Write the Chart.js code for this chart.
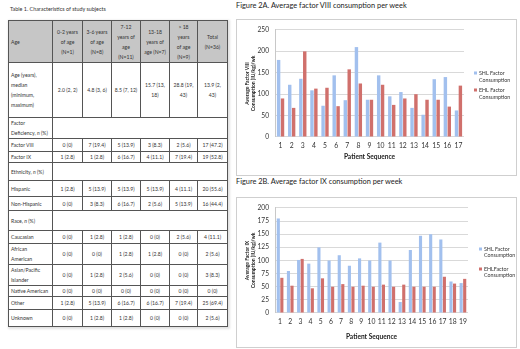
<!DOCTYPE html>
<html>
<head>
<meta charset="utf-8">
<script src="https://cdn.jsdelivr.net/npm/chart.js@4.4.1/dist/chart.umd.min.js"></script>
<style>
  html, body { margin: 0; padding: 0; background: #fff; }
  body { width: 520px; height: 349px; position: relative; overflow: hidden; font-family: Lato, "Open Sans", sans-serif; color: #222; }
  .ttl { position: absolute; font-size: 7.4px; white-space: nowrap; color: #222; }
  #tabTitle { position: absolute; left: 10px; top: 6px; font-size: 5.4px; color: #333; white-space: nowrap; }
  #tblWrap { position: absolute; left: 8px; top: 20px; box-shadow: 1px 1px 2px 1px #e2e2e2; }
  table { border-collapse: collapse; table-layout: fixed; font-size: 5.1px; color: #333; }
  td { border: 1px solid #555; padding: 0 2px; text-align: center; vertical-align: middle; line-height: 10px; overflow: hidden; }
  td.lab { text-align: left; }
  tr.hdr td { background: #c6c6c6; }
  .box { position: absolute; border: 1px solid #cfcfcf; background: #fff; }
</style>
</head>
<body>
<div id="tabTitle">Table 1. Characteristics of study subjects</div>
<div id="tblWrap"><table id="tbl"></table></div>

<div class="ttl" style="left:236px; top:1px;">Figure 2A. Average factor VIII consumption per week</div>
<div class="box" style="left:236px; top:19px; width:279px; height:155px;"><canvas id="c1" width="279" height="155"></canvas></div>

<div class="ttl" style="left:236px; top:177px;">Figure 2B. Average factor IX consumption per week</div>
<div class="box" style="left:236px; top:197px; width:279px; height:149px;"><canvas id="c2" width="279" height="149"></canvas></div>

<script>
// ---------- Table data ----------
const tableColWidths = [44, 30, 29, 29, 29, 28, 30];
const tableHeader = ["Age", "0-2 years<br>of age<br>(N=1)", "3-6 years<br>of age<br>(N=8)", "7-12<br>years of<br>age<br>(N=11)", "13-18<br>years of<br>age (N=7)", "&gt; 18 years<br>of age<br>(N=9)", "Total<br>(N=36)"];
const tableRows = [
  ["Age (years),<br>median<br>(minimum,<br>maximum)", "2.0 (2, 2)", "4.8 (3, 6)", "8.5 (7, 12)", "15.7 (13,<br>18)", "28.8 (19,<br>43)", "13.9 (2,<br>43)"],
  ["Factor<br>Deficiency, <i>n</i> (%)"],
  ["Factor VIII", "0 (0)", "7 (19.4)", "5 (13.9)", "3 (8.3)", "2 (5.6)", "17 (47.2)"],
  ["Factor IX", "1 (2.8)", "1 (2.8)", "6 (16.7)", "4 (11.1)", "7 (19.4)", "19 (52.8)"],
  ["Ethnicity, <i>n</i> (%)"],
  ["Hispanic", "1 (2.8)", "5 (13.9)", "5 (13.9)", "5 (13.9)", "4 (11.1)", "20 (55.6)"],
  ["Non-Hispanic", "0 (0)", "3 (8.3)", "6 (16.7)", "2 (5.6)", "5 (13.9)", "16 (44.4)"],
  ["Race, <i>n</i> (%)"],
  ["Caucasian", "0 (0)", "1 (2.8)", "1 (2.8)", "0 (0)", "2 (5.6)", "4 (11.1)"],
  ["African<br>American", "0 (0)", "0 (0)", "1 (2.8)", "1 (2.8)", "0 (0)", "2 (5.6)"],
  ["Asian/Pacific<br>Islander", "0 (0)", "1 (2.8)", "2 (5.6)", "0 (0)", "0 (0)", "3 (8.3)"],
  ["Native American", "0 (0)", "0 (0)", "0 (0)", "0 (0)", "0 (0)", "0 (0)"],
  ["Other", "1 (2.8)", "5 (13.9)", "6 (16.7)", "6 (16.7)", "7 (19.4)", "25 (69.4)"],
  ["Unknown", "0 (0)", "1 (2.8)", "1 (2.8)", "0 (0)", "0 (0)", "2 (5.6)"]
];
const tableRowHeights = [42, 55, 18, 13, 11, 18, 16, 14, 20, 13, 20, 20, 10, 13, 17];

(function buildTable() {
  const t = document.getElementById('tbl');
  let html = '<colgroup>' + tableColWidths.map(w => '<col style="width:' + w + 'px">').join('') + '</colgroup>';
  html += '<tr class="hdr" style="height:' + tableRowHeights[0] + 'px">' + tableHeader.map((h, i) => '<td' + (i === 0 ? ' class="lab"' : '') + '>' + h + '</td>').join('') + '</tr>';
  tableRows.forEach((r, ri) => {
    const h = tableRowHeights[ri + 1];
    html += '<tr style="height:' + h + 'px">';
    html += '<td class="lab">' + r[0] + '</td>';
    if (r.length === 1) html += '<td colspan="6"></td>';
    else for (let i = 1; i < r.length; i++) html += '<td>' + r[i] + '</td>';
    html += '</tr>';
  });
  t.innerHTML = html;
  t.style.width = tableColWidths.reduce((a, b) => a + b, 0) + 'px';
})();

// ---------- Chart data ----------
const patients2A = ["1","2","3","4","5","6","7","8","9","10","11","12","13","14","15","16","17"];
const shl2A = [180, 122, 136, 109, 73, 144, 86, 210, 87, 144, 95, 105, 68, 52, 135, 140, 62];
const ehl2A = [90, 68, 200, 113, 115, 72, 158, 125, 87, 122, 75, 90, 100, 87, 87, 71, 120];
const legend2A = [["SHL Factor", "Consumption"], ["EHL Factor", "Consumption"]];
const yTitle2A = ["Average Factor VIII", "Consumption (IU/kg)/wk"];

const patients2B = ["1","2","3","4","5","6","7","8","9","10","11","12","13","14","15","16","17","18","19"];
const shl2B = [180, 80, 101, 94, 125, 100, 110, 90, 104, 100, 134, 100, 21, 120, 147, 150, 140, 60, 57];
const ehl2B = [67, 52, 103, 47, 66, 50, 55, 50, 52, 50, 54, 50, 54, 50, 50, 50, 69, 56, 65];
const legend2B = [["SHL Factor", "Consumption"], ["EHLFactor", "Consumption"]];
const yTitle2B = ["Average Factor IX", "Consumption (IU/kg)/wk"];

const BLUE = '#a2c0ee';
const RED = '#d0706c';

const legendPlugin = {
  id: 'sideLegend',
  afterDraw(chart, args, opts) {
    const ctx = chart.ctx;
    ctx.save();
    ctx.font = '5.3px Lato, "Open Sans", sans-serif';
    ctx.textBaseline = 'middle';
    chart.data.datasets.forEach((ds, i) => {
      const y0 = opts.y + i * opts.gap;
      ctx.fillStyle = ds.backgroundColor;
      ctx.fillRect(opts.x, y0 - 1.5, 3, 3);
      ctx.fillStyle = '#333';
      ds.legendLines.forEach((ln, j) => ctx.fillText(ln, opts.x + 5, y0 + j * opts.lh));
    });
    ctx.restore();
  }
};

function makeChart(id, labels, shl, ehl, legendLines, yTitle, ymax, step, padBottom, padRight, xHeight, legendPos) {
  return new Chart(document.getElementById(id), {
    type: 'bar',
    data: {
      labels: labels,
      datasets: [
        { label: legendLines[0].join(' '), legendLines: legendLines[0], data: shl, backgroundColor: BLUE, borderWidth: 0 },
        { label: legendLines[1].join(' '), legendLines: legendLines[1], data: ehl, backgroundColor: RED, borderWidth: 0 }
      ]
    },
    options: {
      responsive: false,
      animation: false,
      devicePixelRatio: 1,
      layout: { padding: { top: 8, right: padRight, bottom: padBottom, left: 0 } },
      datasets: { bar: { categoryPercentage: 0.7, barPercentage: 0.88 } },
      plugins: { legend: { display: false }, tooltip: { enabled: false }, sideLegend: legendPos },
      scales: {
        x: {
          afterFit(scale) { scale.height = xHeight; },
          grid: { display: false, drawTicks: false },
          border: { display: false },
          ticks: { color: '#333', font: { size: 6.8 }, padding: 5, maxRotation: 0, autoSkip: false },
          title: { display: true, text: 'Patient Sequence', color: '#222', font: { size: 6.6, weight: 'bold' }, padding: { top: 2, bottom: 0 } }
        },
        y: {
          min: 0, max: ymax,
          afterFit(scale) { scale.width = 38; },
          grid: { color: '#d9d9d9', lineWidth: 1, drawTicks: false },
          border: { display: true, color: '#c8c8c8' },
          ticks: { stepSize: step, color: '#333', font: { size: 6.6 }, padding: 6 },
          title: { display: true, text: yTitle, color: '#222', font: { size: 5, weight: 'bold' }, padding: { top: 7, bottom: 0 } }
        }
      }
    },
    plugins: [legendPlugin]
  });
}

Chart.defaults.font.family = 'Lato, "Open Sans", sans-serif';
makeChart('c1', patients2A, shl2A, ehl2A, legend2A, yTitle2A, 250, 50, 14, 52, 24, { x: 237, y: 53, gap: 17, lh: 7 });
makeChart('c2', patients2B, shl2B, ehl2B, legend2B, yTitle2B, 200, 25, 6, 48, 28, { x: 242, y: 51, gap: 20, lh: 6.5 });
</script>
</body>
</html>
